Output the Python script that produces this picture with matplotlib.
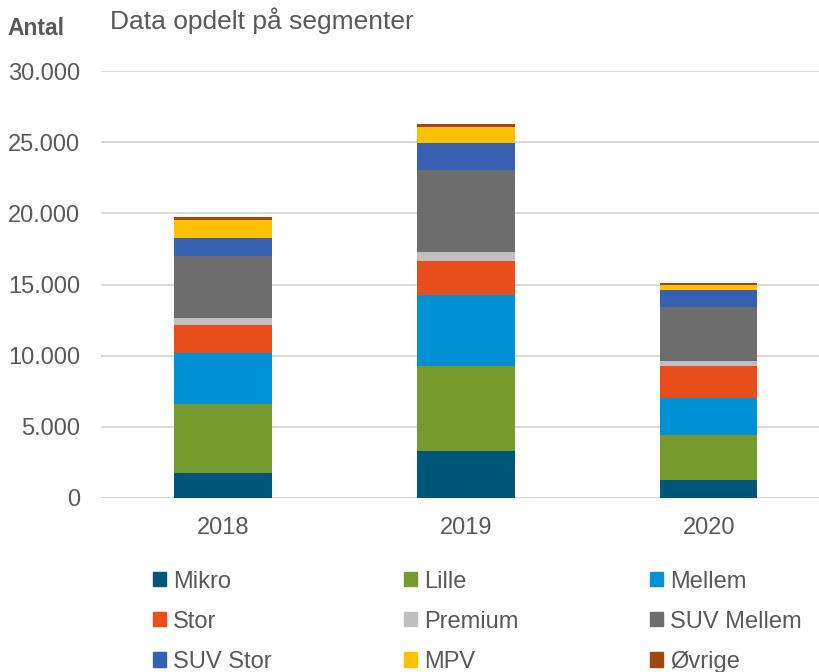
import matplotlib.pyplot as plt
from matplotlib.patches import Patch
from matplotlib.ticker import FuncFormatter

plt.rcParams['font.family'] = ['Liberation Sans', 'DejaVu Sans']

years = ["2018", "2019", "2020"]
segments = ["Mikro", "Lille", "Mellem", "Stor", "Premium",
            "SUV Mellem", "SUV Stor", "MPV", "Øvrige"]

mikro = [1750, 3300, 1230]
lille = [4880, 5990, 3220]
mellem = [3540, 4950, 2580]
stor = [2010, 2410, 2250]
premium = [470, 650, 370]
suv_mellem = [4330, 5790, 3790]
suv_stor = [1310, 1830, 1150]
mpv = [1240, 1150, 380]
oevrige = [190, 190, 160]

values = [mikro, lille, mellem, stor, premium, suv_mellem, suv_stor, mpv, oevrige]
colors = ["#005677", "#779A2E", "#0091D5", "#E84E1C", "#BFBFBF",
          "#6D6D6D", "#3561B0", "#FFC000", "#9E480E"]

txt = "#595959"

fig = plt.figure(figsize=(8.19, 6.72), dpi=100)
ax = fig.add_axes([0.1239, 0.259, 0.890, 0.635])

x = range(len(years))
bottom = [0, 0, 0]
for name, vals, c in zip(segments, values, colors):
    ax.bar(x, vals, 0.4, bottom=bottom, color=c, label=name, zorder=3)
    bottom = [b + v for b, v in zip(bottom, vals)]

ax.set_xlim(-0.5, 2.5)
ax.set_ylim(0, 30000)
ax.set_yticks(range(0, 30001, 5000))
ax.yaxis.set_major_formatter(FuncFormatter(lambda v, p: f"{int(v):,}".replace(",", ".")))
ax.set_xticks(list(x))
ax.set_xticklabels(years)
ax.tick_params(axis="both", length=0, labelsize=17, colors=txt)
ax.tick_params(axis="y", pad=15.5)
ax.tick_params(axis="x", pad=14)
ax.grid(axis="y", color="#D9D9D9", linewidth=1.5, zorder=0)
for s in ax.spines.values():
    s.set_visible(False)

fig.text(0.009, 0.948, "Antal", fontsize=16.5, fontweight="bold", color=txt)
fig.text(0.134, 0.957, "Data opdelt på segmenter", fontsize=19, color=txt)

# legend is filled row by row in the original
handles = [Patch(color=c) for c in colors]
order = [0, 3, 6, 1, 4, 7, 2, 5, 8]
fig.legend([handles[i] for i in order], [segments[i] for i in order],
           ncol=3, loc="upper left", bbox_to_anchor=(0.1865, 0.151),
           frameon=False, fontsize=17, labelcolor=txt,
           handlelength=0.55, handleheight=0.55, handletextpad=0.3,
           columnspacing=5.6, labelspacing=0.77, borderaxespad=0, borderpad=0)

fig.savefig("out.png", dpi=100)
